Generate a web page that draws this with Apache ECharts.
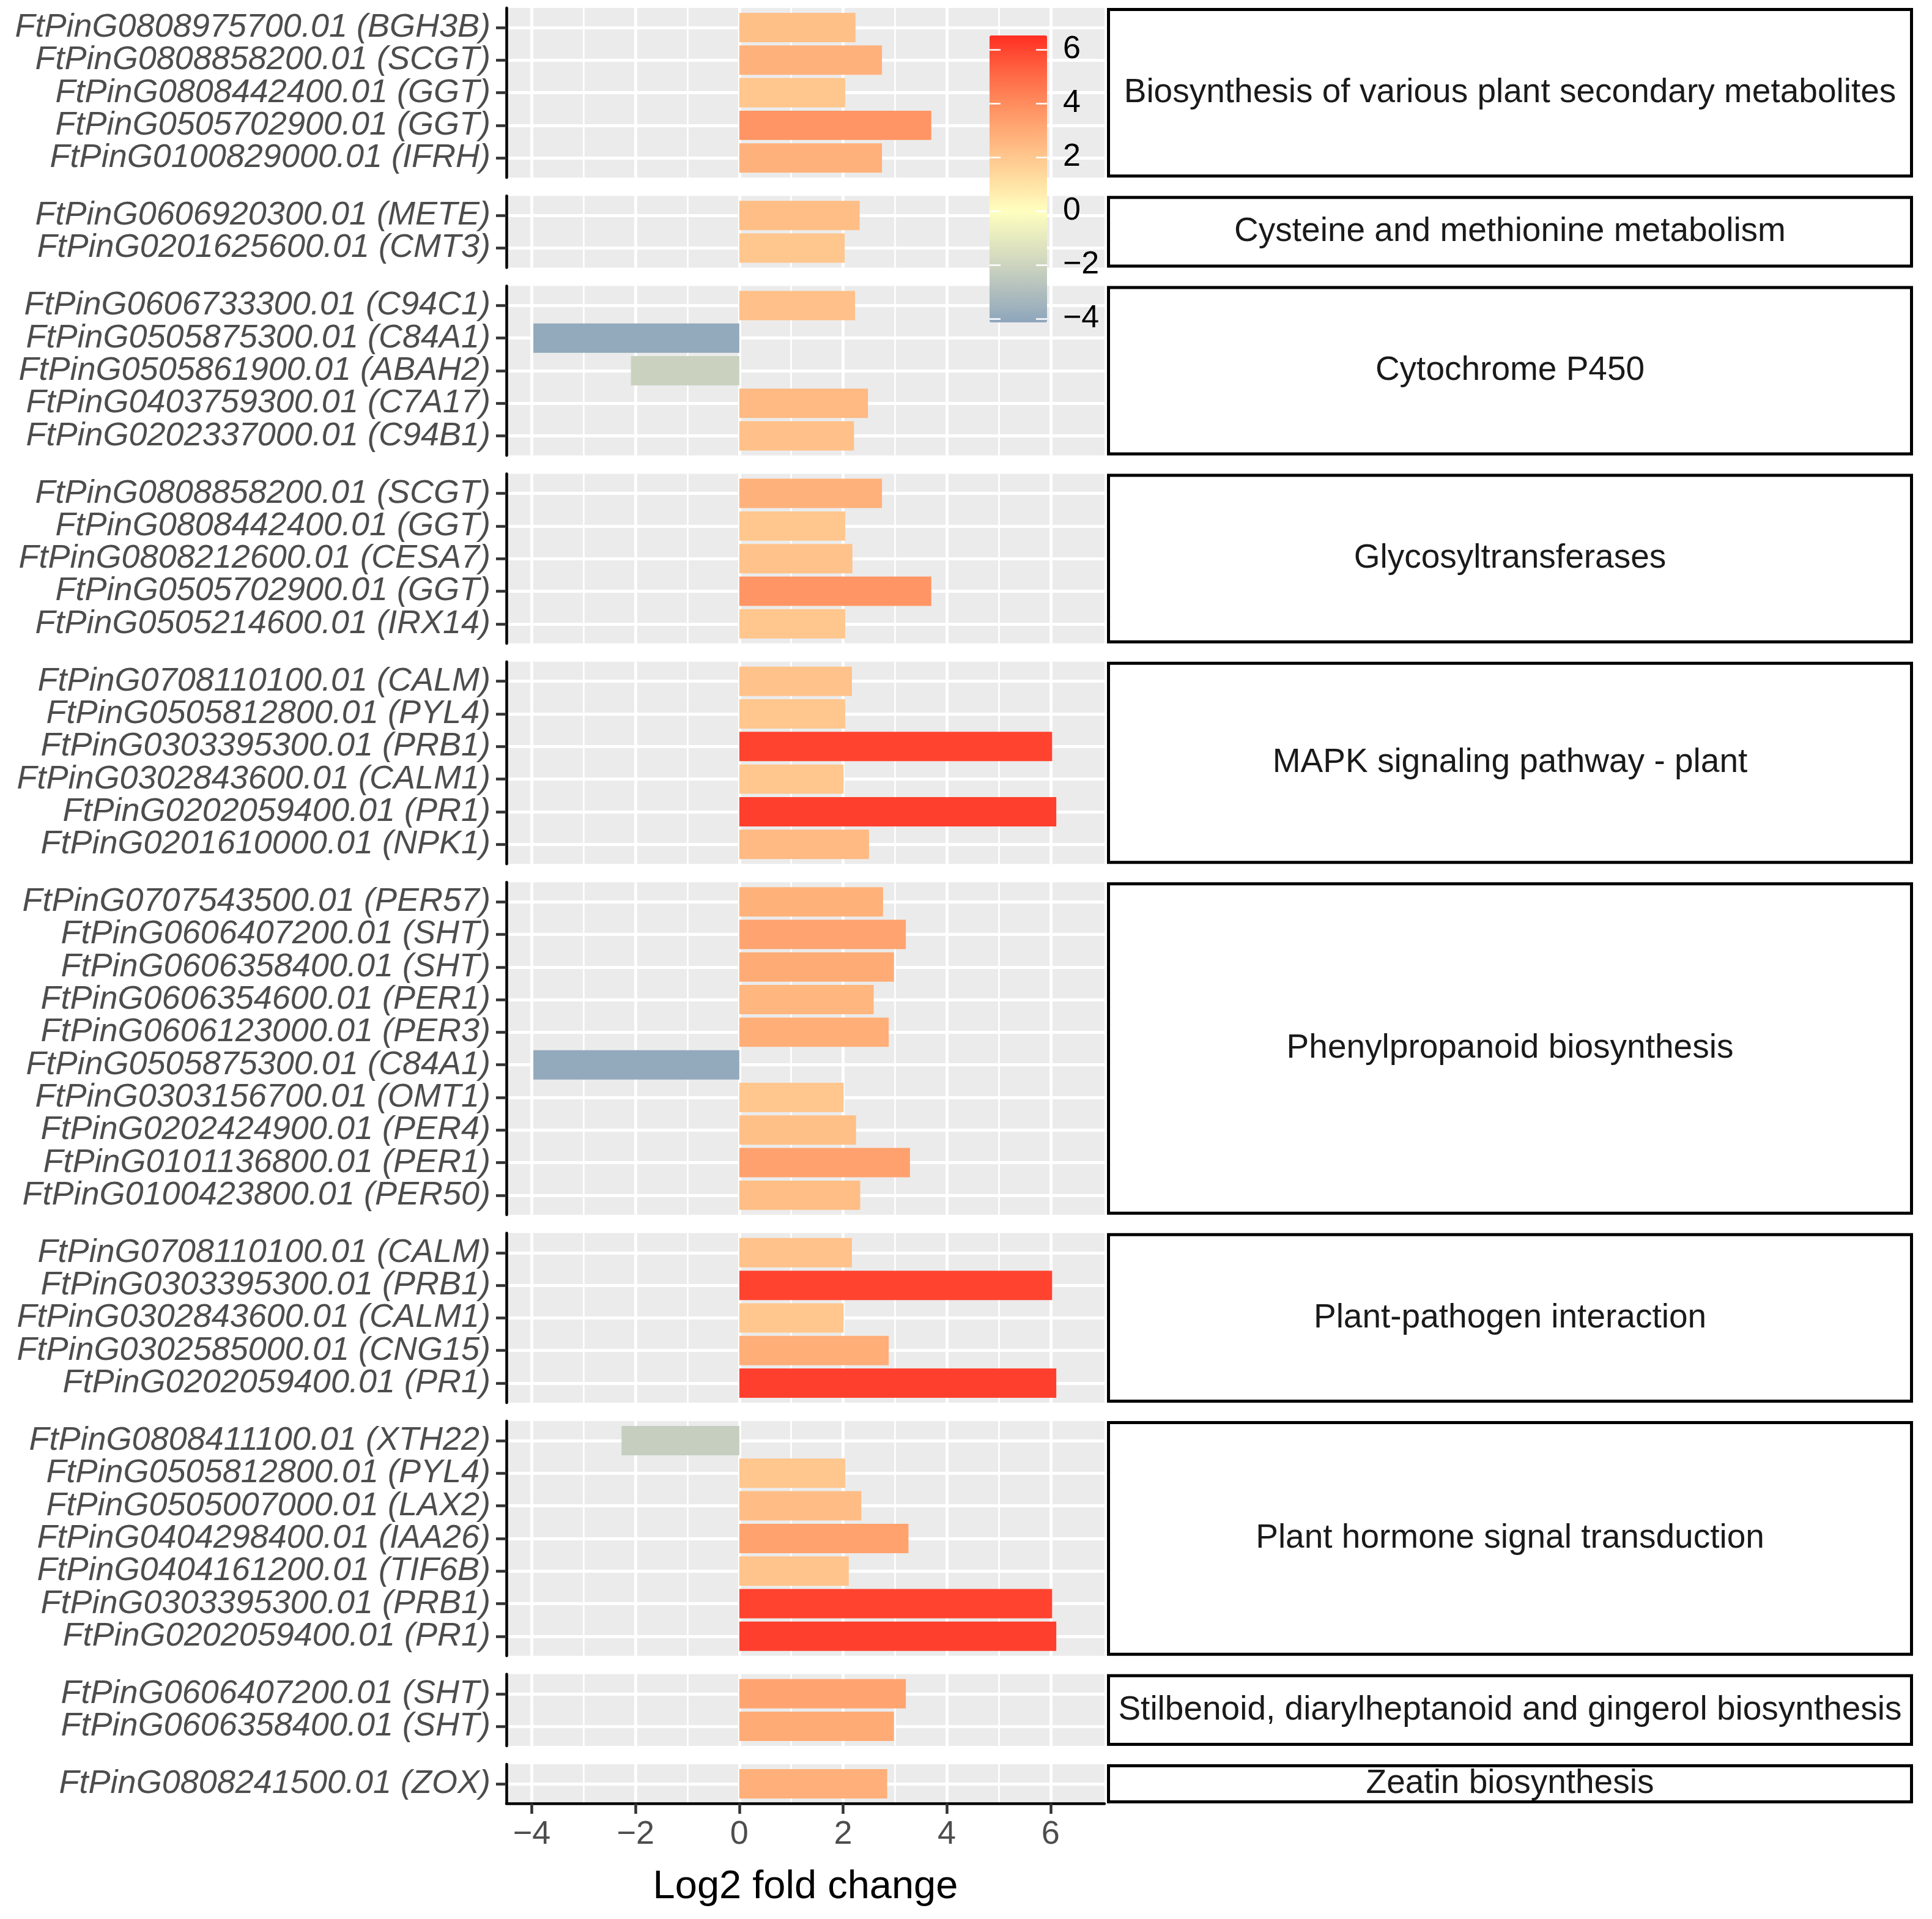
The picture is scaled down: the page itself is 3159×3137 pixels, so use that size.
<!DOCTYPE html>
<html><head><meta charset="utf-8">
<script src="https://cdn.jsdelivr.net/npm/echarts@6/dist/echarts.min.js"></script>
<style>html,body{margin:0;padding:0;background:#fff}#c{width:3159px;height:3137px}</style>
</head><body><div id="c"></div>
<script>
// ---------------- data ----------------
const pathways = [
  "Biosynthesis of various plant secondary metabolites",
  "Cysteine and methionine metabolism",
  "Cytochrome P450",
  "Glycosyltransferases",
  "MAPK signaling pathway - plant",
  "Phenylpropanoid biosynthesis",
  "Plant-pathogen interaction",
  "Plant hormone signal transduction",
  "Stilbenoid, diarylheptanoid and gingerol biosynthesis",
  "Zeatin biosynthesis"
];
const p1Genes = ["FtPinG0808975700.01 (BGH3B)","FtPinG0808858200.01 (SCGT)","FtPinG0808442400.01 (GGT)","FtPinG0505702900.01 (GGT)","FtPinG0100829000.01 (IFRH)"];
const p1Values = [2.24, 2.75, 2.04, 3.70, 2.75];
const p2Genes = ["FtPinG0606920300.01 (METE)","FtPinG0201625600.01 (CMT3)"];
const p2Values = [2.32, 2.03];
const p3Genes = ["FtPinG0606733300.01 (C94C1)","FtPinG0505875300.01 (C84A1)","FtPinG0505861900.01 (ABAH2)","FtPinG0403759300.01 (C7A17)","FtPinG0202337000.01 (C94B1)"];
const p3Values = [2.23, -3.97, -2.09, 2.48, 2.21];
const p4Genes = ["FtPinG0808858200.01 (SCGT)","FtPinG0808442400.01 (GGT)","FtPinG0808212600.01 (CESA7)","FtPinG0505702900.01 (GGT)","FtPinG0505214600.01 (IRX14)"];
const p4Values = [2.75, 2.04, 2.18, 3.70, 2.04];
const p5Genes = ["FtPinG0708110100.01 (CALM)","FtPinG0505812800.01 (PYL4)","FtPinG0303395300.01 (PRB1)","FtPinG0302843600.01 (CALM1)","FtPinG0202059400.01 (PR1)","FtPinG0201610000.01 (NPK1)"];
const p5Values = [2.17, 2.04, 6.03, 2.01, 6.11, 2.50];
const p6Genes = ["FtPinG0707543500.01 (PER57)","FtPinG0606407200.01 (SHT)","FtPinG0606358400.01 (SHT)","FtPinG0606354600.01 (PER1)","FtPinG0606123000.01 (PER3)","FtPinG0505875300.01 (C84A1)","FtPinG0303156700.01 (OMT1)","FtPinG0202424900.01 (PER4)","FtPinG0101136800.01 (PER1)","FtPinG0100423800.01 (PER50)"];
const p6Values = [2.77, 3.21, 2.98, 2.59, 2.88, -3.97, 2.01, 2.25, 3.29, 2.33];
const p7Genes = ["FtPinG0708110100.01 (CALM)","FtPinG0303395300.01 (PRB1)","FtPinG0302843600.01 (CALM1)","FtPinG0302585000.01 (CNG15)","FtPinG0202059400.01 (PR1)"];
const p7Values = [2.17, 6.03, 2.01, 2.88, 6.11];
const p8Genes = ["FtPinG0808411100.01 (XTH22)","FtPinG0505812800.01 (PYL4)","FtPinG0505007000.01 (LAX2)","FtPinG0404298400.01 (IAA26)","FtPinG0404161200.01 (TIF6B)","FtPinG0303395300.01 (PRB1)","FtPinG0202059400.01 (PR1)"];
const p8Values = [-2.27, 2.04, 2.35, 3.26, 2.11, 6.03, 6.11];
const p9Genes = ["FtPinG0606407200.01 (SHT)","FtPinG0606358400.01 (SHT)"];
const p9Values = [3.21, 2.98];
const p10Genes = ["FtPinG0808241500.01 (ZOX)"];
const p10Values = [2.85];

const xMajorTicks = [-4, -2, 0, 2, 4, 6];
const xMinorTicks = [-3, -1, 1, 3, 5];
const legendTicks = [-4, -2, 0, 2, 4, 6];
const xLimits = [-4.49, 7.04];
const fillLimits = [-4.14, 6.52];
const xTitle = "Log2 fold change";

// ---------------- style / layout ----------------
const FONT = "Liberation Sans";
const colourStops = [[-4.14,'#8FA5BB'],[-4,'#92A8BC'],[-2,'#CDD4BF'],[0,'#FFFFBF'],[1,'#FFE2A5'],[2,'#FFC78E'],[3,'#FFAA75'],[4,'#FF8C5D'],[5,'#FF6B46'],[6,'#FF4530'],[6.52,'#FF2D21']];
const L = {gridLeft: 828, gridRight: 1806, top0: 13, unit: 53.3, gap: 30, stripLeft: 1810, stripRight: 3128,
           legLeft: 1618, legTop: 58, legW: 94, legH: 469};

function hex(c){return [parseInt(c.slice(1,3),16),parseInt(c.slice(3,5),16),parseInt(c.slice(5,7),16)];}
function colourAt(v){
  for (let i=0;i<colourStops.length-1;i++){
    const [a,ca]=colourStops[i],[b,cb]=colourStops[i+1];
    if (v<=b || i===colourStops.length-2){
      const t=Math.max(0,Math.min(1,(v-a)/(b-a)));
      const A=hex(ca),B=hex(cb);
      return 'rgb('+A.map((x,k)=>Math.round(x+(B[k]-x)*t)).join(',')+')';
    }
  }
}
const NCOL = 120;
const colourList = [];
for (let k=0;k<=NCOL;k++) colourList.push(colourAt(fillLimits[0]+(fillLimits[1]-fillLimits[0])*k/NCOL));

const fmtNum = v => (v<0?'\u2212':'')+Math.abs(v);

const panels = [
  [p1Genes,p1Values],[p2Genes,p2Values],[p3Genes,p3Values],[p4Genes,p4Values],[p5Genes,p5Values],
  [p6Genes,p6Values],[p7Genes,p7Values],[p8Genes,p8Values],[p9Genes,p9Values],[p10Genes,p10Values]
].map((d,i)=>({name:pathways[i], genes:d[0], vals:d[1]}));

let yCur = L.top0;
panels.forEach(p=>{ p.h=(p.genes.length+0.2)*L.unit; p.top=yCur; yCur+=p.h+L.gap; });

function renderItem(params, api){
  const v = api.value(0), k = api.value(1);
  const p0 = api.coord([0,k]), p1 = api.coord([v,k]);
  const h = api.size([0,0.9])[1];
  return {type:'rect', shape:{x:Math.min(p0[0],p1[0]), y:p0[1]-h/2, width:Math.abs(p1[0]-p0[0]), height:h},
          style:{fill: api.visual('color')}};
}

const grids=[], xAxes=[], yAxes=[], series=[], graphics=[];
panels.forEach((p,i)=>{
  const last = i===panels.length-1;
  grids.push({left:L.gridLeft, top:p.top, width:L.gridRight-L.gridLeft, height:p.h, show:true,
              backgroundColor:'#EBEBEB', borderWidth:0});
  xAxes.push({type:'value', gridIndex:i, min:xLimits[0], max:xLimits[1], position:'bottom',
    axisLine:{show:last, onZero:false, lineStyle:{color:'#000', width:4.5}},
    axisTick:{show:last, customValues:xMajorTicks, length:17, lineStyle:{color:'#333', width:4.5}},
    axisLabel:{show:last, customValues:xMajorTicks, formatter:fmtNum, fontSize:54, color:'#4D4D4D', fontFamily:FONT,
               margin:24, showMinLabel:true, showMaxLabel:true, hideOverlap:false},
    splitLine:{show:true, lineStyle:{color:'#fff', width:5}},
    name:last?xTitle:'', nameLocation:'middle', nameGap:105,
    nameTextStyle:{fontSize:65, color:'#000', fontFamily:FONT}});
  xAxes.push({type:'value', gridIndex:i, min:xLimits[0], max:xLimits[1], position:'top',
    axisLine:{show:false, onZero:false}, axisTick:{show:false, customValues:xMinorTicks}, axisLabel:{show:false},
    splitLine:{show:true, lineStyle:{color:'#fff', width:2.7}}});
  // gene labels split over two overlaid axes (even / odd rows) so that neighbouring labels never collide
  const idxAll = p.genes.map((g,k)=>k);
  [0,1].forEach(par=>{
    const idx = idxAll.filter(k=>k%2===par);
    const has = idx.length>0;
    yAxes.push({type:'value', gridIndex:i, inverse:true, min:-0.6, max:p.genes.length-0.4, position:'left', offset:0,
      axisLine:{show:par===0, onZero:false, lineStyle:{color:'#000', width:4.5}},
      axisTick:{show:has, customValues:has?idx:[0], length:17, lineStyle:{color:'#333', width:4.5}},
      axisLabel:{show:has, customValues:has?idx:[0], formatter:v=>p.genes[Math.round(v)], fontSize:54, fontStyle:'italic',
                 color:'#4D4D4D', fontFamily:FONT, margin:26, showMinLabel:true, showMaxLabel:true, hideOverlap:false},
      splitLine:{show:has, lineStyle:{color:'#fff', width:5}}});
  });
  series.push({type:'custom', name:p.name, xAxisIndex:2*i, yAxisIndex:2*i,
    data:p.vals.map((v,k)=>[v,k]), encode:{x:0,y:1}, renderItem, silent:true});
  // strip
  graphics.push({type:'rect', shape:{x:L.stripLeft+2.5, y:p.top+2.5, width:L.stripRight-L.stripLeft-5, height:p.h-5},
    style:{fill:'#fff', stroke:'#000', lineWidth:5}, z:1});
  graphics.push({type:'text', x:(L.stripLeft+L.stripRight)/2, y:p.top+p.h/2, z:2,
    style:{text:p.name, fontSize:55, fontFamily:FONT, fill:'#1A1A1A', align:'center', verticalAlign:'middle',
           textAlign:'center', textVerticalAlign:'middle'}});
});

// colourbar legend axes
const gi = panels.length;
grids.push({left:L.legLeft, top:L.legTop, width:L.legW, height:L.legH, show:false});
xAxes.push({type:'value', gridIndex:gi, show:false, min:0, max:1});
yAxes.push({type:'value', gridIndex:gi, min:fillLimits[0], max:fillLimits[1], position:'right', z:10,
  axisLine:{show:false, onZero:false}, splitLine:{show:false},
  axisTick:{show:true, inside:true, customValues:legendTicks, length:18, lineStyle:{color:'#fff', width:2.5}},
  axisLabel:{customValues:legendTicks, formatter:fmtNum, fontSize:52, color:'#000', fontFamily:FONT, margin:26,
             showMinLabel:true, showMaxLabel:true, hideOverlap:false}});
yAxes.push({type:'value', gridIndex:gi, min:fillLimits[0], max:fillLimits[1], position:'left', z:10,
  axisLine:{show:false, onZero:false}, splitLine:{show:false}, axisLabel:{show:false},
  axisTick:{show:true, inside:true, customValues:legendTicks, length:18, lineStyle:{color:'#fff', width:2.5}}});

const chart = echarts.init(document.getElementById('c'), null, {renderer:'canvas', width:3159, height:3137});
chart.setOption({
  backgroundColor:'#fff',
  animation:false,
  grid:grids, xAxis:xAxes, yAxis:yAxes, series,
  visualMap:[{type:'continuous', min:fillLimits[0], max:fillLimits[1], dimension:0,
    seriesIndex:panels.map((p,i)=>i), inRange:{color:colourList}, calculable:false, show:true,
    left:L.legLeft, top:L.legTop, itemWidth:L.legW, itemHeight:L.legH, padding:0, text:null, z:5}],
  graphic:graphics
});
</script></body></html>
